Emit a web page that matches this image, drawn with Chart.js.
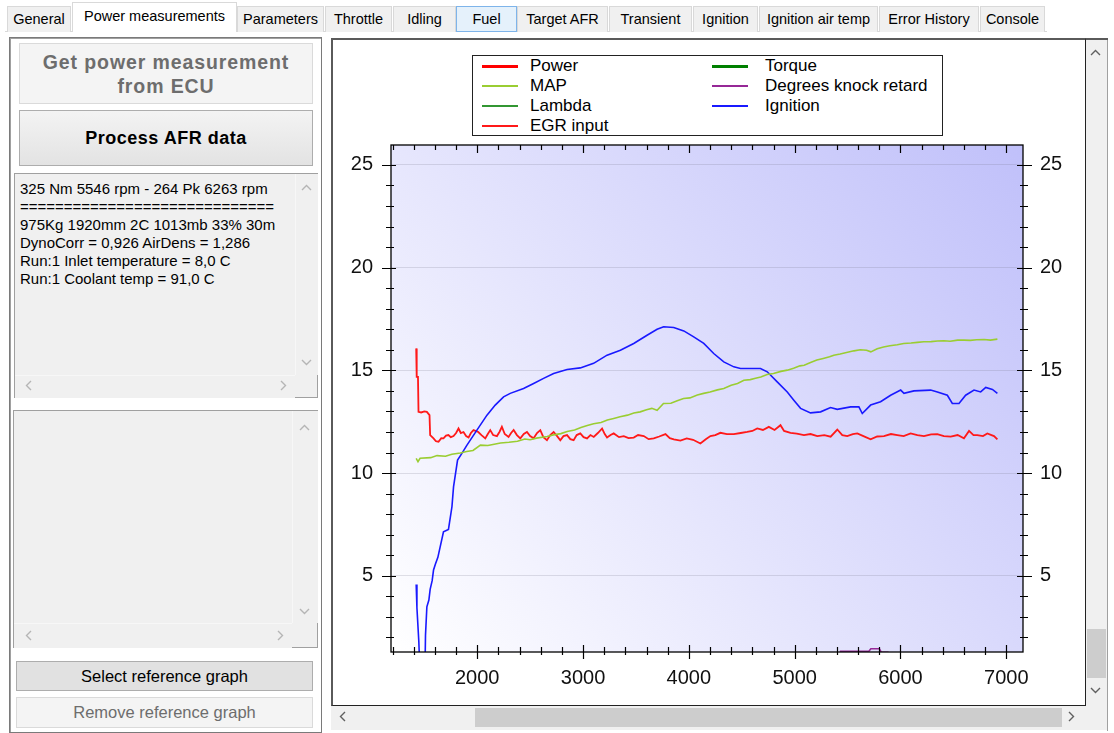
<!DOCTYPE html>
<html>
<head>
<meta charset="utf-8">
<script src="https://cdn.jsdelivr.net/npm/chart.js@4.4.1/dist/chart.umd.min.js"></script>
<style>
body { margin:0; width:1114px; height:733px; background:#fff; font-family: Arial, "Liberation Sans", sans-serif; position:relative; overflow:hidden; }
.a { position:absolute; box-sizing:border-box; }
.tab { position:absolute; top:6px; height:26px; background:#f0f0f0; border:1px solid #d9d9d9; border-bottom:none; font-size:14.5px; letter-spacing:0; text-align:center; line-height:24px; box-sizing:border-box; }
.tab.sel { top:2px; height:30px; background:#fff; line-height:26px; z-index:2; }
.tab.hot { background:#e5f1fb; border-color:#7eb4ea; border-bottom:1px solid #7eb4ea; }
.btn { position:absolute; box-sizing:border-box; text-align:center; }
.tb { position:absolute; box-sizing:border-box; background:#f0f0f0; border:1px solid #a0a0a0; }
.txt { position:absolute; left:5px; top:6px; font-size:15px; line-height:18px; white-space:pre; }
.sb { position:absolute; background:#f0f0f0; }
.arr { position:absolute; }
#legend { position:absolute; left:472px; top:55px; width:471px; height:81px; border:1px solid #222; background:#fff; box-sizing:border-box; font-size:17px; }
#legend .it { position:absolute; height:20px; line-height:20px; white-space:nowrap; }
#legend .ln { position:absolute; left:0; width:36px; }
#legend .lb { position:absolute; left:48px; top:0; }
</style>
</head>
<body>

<div class="a" style="left:5px;top:31px;width:1042px;height:1px;background:#d9d9d9"></div>
<div class="tab" style="left:7px;width:64px">General</div>
<div class="tab sel" style="left:72px;width:165px">Power measurements</div>
<div class="tab" style="left:237px;width:87px">Parameters</div>
<div class="tab" style="left:325px;width:67px">Throttle</div>
<div class="tab" style="left:393px;width:63px">Idling</div>
<div class="tab hot" style="left:456px;width:61px">Fuel</div>
<div class="tab" style="left:517px;width:91px">Target AFR</div>
<div class="tab" style="left:609px;width:83px">Transient</div>
<div class="tab" style="left:693px;width:65px">Ignition</div>
<div class="tab" style="left:759px;width:119px">Ignition air temp</div>
<div class="tab" style="left:879px;width:100px">Error History</div>
<div class="tab" style="left:980px;width:65px">Console</div>

<!-- left panel -->
<div class="a" style="left:9px;top:37px;width:313px;height:696px;border:1px solid #7a7a7a;box-shadow:inset 1px 1px 0 #a0a0a0"></div>

<div class="btn" style="left:19px;top:43px;width:294px;height:61px;background:#f4f4f4;border:1px solid #dadada;color:#6d6d6d;font-weight:bold;font-size:19.5px;letter-spacing:0.9px;line-height:24px;padding-top:6px">Get power measurement<br>from ECU</div>
<div class="btn" style="left:19px;top:110px;width:294px;height:56px;background:linear-gradient(#f3f3f3,#e3e3e3);border:1px solid #adadad;color:#000;font-weight:bold;font-size:18px;letter-spacing:0.5px;line-height:54px">Process AFR data</div>

<div class="tb" style="left:14px;top:173px;width:304px;height:225px">
  <div class="txt">325 Nm 5546 rpm - 264 Pk 6263 rpm
=============================
975Kg 1920mm 2C 1013mb 33% 30m
DynoCorr = 0,926 AirDens = 1,286
Run:1 Inlet temperature = 8,0 C
Run:1 Coolant temp = 91,0 C</div>
  <div class="sb" style="left:280px;top:0;width:22px;height:201px;border-left:1px solid #f7f7f7"></div>
  <svg class="arr" style="left:286px;top:10px" width="11" height="7"><polyline points="1,6 5.5,1.5 10,6" fill="none" stroke="#b5b5b5" stroke-width="1.4"/></svg>
  <svg class="arr" style="left:286px;top:185px" width="11" height="7"><polyline points="1,1 5.5,5.5 10,1" fill="none" stroke="#b5b5b5" stroke-width="1.4"/></svg>
  <div class="sb" style="left:0;top:201px;width:280px;height:22px;border-top:1px solid #f7f7f7"></div>
  <svg class="arr" style="left:10px;top:206px" width="7" height="11"><polyline points="6,1 1.5,5.5 6,10" fill="none" stroke="#b5b5b5" stroke-width="1.4"/></svg>
  <svg class="arr" style="left:265px;top:206px" width="7" height="11"><polyline points="1,1 5.5,5.5 1,10" fill="none" stroke="#b5b5b5" stroke-width="1.4"/></svg>
</div>

<div class="tb" style="left:13px;top:410px;width:305px;height:238px">
  <div class="sb" style="left:278px;top:0;width:25px;height:212px;border-left:1px solid #f7f7f7"></div>
  <svg class="arr" style="left:285px;top:13px" width="11" height="7"><polyline points="1,6 5.5,1.5 10,6" fill="none" stroke="#b5b5b5" stroke-width="1.4"/></svg>
  <svg class="arr" style="left:285px;top:197px" width="11" height="7"><polyline points="1,1 5.5,5.5 10,1" fill="none" stroke="#b5b5b5" stroke-width="1.4"/></svg>
  <div class="sb" style="left:0;top:212px;width:278px;height:24px;border-top:1px solid #f7f7f7"></div>
  <svg class="arr" style="left:11px;top:219px" width="7" height="11"><polyline points="6,1 1.5,5.5 6,10" fill="none" stroke="#b5b5b5" stroke-width="1.4"/></svg>
  <svg class="arr" style="left:263px;top:219px" width="7" height="11"><polyline points="1,1 5.5,5.5 1,10" fill="none" stroke="#b5b5b5" stroke-width="1.4"/></svg>
</div>

<div class="btn" style="left:16px;top:661px;width:297px;height:30px;background:#e1e1e1;border:1px solid #adadad;font-size:16.5px;line-height:28px">Select reference graph</div>
<div class="btn" style="left:16px;top:697px;width:297px;height:31px;background:#f4f4f4;border:1px solid #dadada;color:#6d6d6d;font-size:16.5px;line-height:29px">Remove reference graph</div>

<!-- chart panel -->
<div class="a" style="left:1107px;top:38px;width:1px;height:693px;background:#a0a0a0"></div>
<div class="a" style="left:331px;top:38px;width:777px;height:2px;background:#5a5a5a"></div>
<div class="a" style="left:331px;top:38px;width:755px;height:668px;border-left:2px solid #5a5a5a;border-top:2px solid #5a5a5a;border-right:1px solid #222;border-bottom:1px solid #222;background:#fff">
  <canvas id="chart" width="752" height="665" style="position:absolute;left:0;top:0"></canvas>
</div>
<div class="sb" style="left:1086px;top:40px;width:21px;height:666px"></div>
<svg class="arr" style="left:1090px;top:49px" width="11" height="7"><polyline points="1,6 5.5,1.5 10,6" fill="none" stroke="#606060" stroke-width="1.4"/></svg>
<div class="a" style="left:1087px;top:629px;width:19px;height:49px;background:#cdcdcd"></div>
<svg class="arr" style="left:1090px;top:687px" width="11" height="7"><polyline points="1,1 5.5,5.5 10,1" fill="none" stroke="#606060" stroke-width="1.4"/></svg>
<div class="sb" style="left:331px;top:706px;width:776px;height:24px"></div>
<svg class="arr" style="left:339px;top:711px" width="7" height="11"><polyline points="6,1 1.5,5.5 6,10" fill="none" stroke="#606060" stroke-width="1.4"/></svg>
<div class="a" style="left:475px;top:708px;width:587px;height:19px;background:#cdcdcd"></div>
<svg class="arr" style="left:1068px;top:711px" width="7" height="11"><polyline points="1,1 5.5,5.5 1,10" fill="none" stroke="#606060" stroke-width="1.4"/></svg>

<div id="legend"></div>

<script>
// axis ranges as shown in the graph (zoomed view)
const rpmMin = 1185, rpmMax = 7158;
const valMin = 1.29, valMax = 25.97;
const rpmLabels = [2000, 3000, 4000, 5000, 6000, 7000];
const valLabels = [5, 10, 15, 20, 25];

// Ignition (deg)
const ignRpm = [1423, 1430, 1448, 1461, 1505, 1511, 1524, 1543, 1555, 1574, 1587, 1605, 1628, 1681, 1728, 1761, 1776, 1814, 1855, 1903, 1997, 2092, 2170, 2249, 2312, 2438, 2533, 2627, 2722, 2849, 2974, 3100, 3227, 3353, 3479, 3605, 3700, 3762, 3857, 3952, 4046, 4141, 4235, 4330, 4425, 4488, 4677, 4741, 4835, 4930, 4992, 5056, 5150, 5245, 5339, 5403, 5529, 5607, 5639, 5718, 5812, 5907, 6002, 6033, 6127, 6285, 6349, 6443, 6490, 6553, 6616, 6695, 6758, 6806, 6869, 6916];
const ignDeg = [4.58, 3.44, 1.79, 0, 0, 2.1, 3.49, 3.82, 4.34, 4.76, 5.28, 5.57, 5.9, 7.14, 7.26, 8.36, 9.33, 10.63, 10.96, 11.36, 12.09, 12.82, 13.31, 13.71, 13.88, 14.12, 14.36, 14.61, 14.85, 15.04, 15.12, 15.34, 15.74, 15.98, 16.31, 16.71, 17.0, 17.12, 17.09, 16.92, 16.63, 16.31, 15.82, 15.41, 15.17, 15.09, 15.09, 14.93, 14.44, 13.95, 13.55, 13.15, 12.93, 12.98, 13.19, 13.10, 13.22, 13.22, 12.90, 13.31, 13.47, 13.79, 14.04, 13.88, 14.00, 14.04, 13.95, 13.79, 13.39, 13.39, 13.79, 14.04, 13.95, 14.17, 14.07, 13.88];

// MAP
const mapRpm = [1423, 1440, 1460, 1560, 1620, 1700, 1760, 1840, 1900, 1960, 2030, 2100, 2160, 2220, 2300, 2380, 2450, 2500, 2560, 2660, 2720, 2790, 2850, 2920, 2980, 3040, 3100, 3170, 3230, 3290, 3350, 3420, 3480, 3540, 3600, 3650, 3700, 3760, 3830, 3890, 3950, 4010, 4080, 4140, 4200, 4270, 4330, 4400, 4460, 4520, 4580, 4630, 4680, 4740, 4800, 4870, 4930, 4990, 5050, 5090, 5150, 5210, 5270, 5330, 5370, 5430, 5500, 5560, 5620, 5680, 5720, 5780, 5840, 5900, 5970, 6030, 6100, 6160, 6220, 6290, 6350, 6410, 6470, 6540, 6600, 6660, 6720, 6790, 6850, 6916];
const mapVal = [10.71, 10.55, 10.72, 10.75, 10.85, 10.82, 10.92, 10.98, 11.05, 11.10, 11.36, 11.34, 11.40, 11.46, 11.50, 11.55, 11.66, 11.62, 11.70, 11.78, 11.86, 11.92, 12.02, 12.10, 12.22, 12.32, 12.40, 12.46, 12.58, 12.66, 12.74, 12.82, 12.92, 12.98, 13.08, 13.15, 13.06, 13.39, 13.40, 13.52, 13.63, 13.66, 13.80, 13.88, 13.95, 14.05, 14.12, 14.28, 14.36, 14.52, 14.55, 14.62, 14.68, 14.80, 14.85, 14.95, 15.01, 15.10, 15.22, 15.25, 15.38, 15.50, 15.58, 15.66, 15.74, 15.80, 15.88, 15.95, 16.00, 15.98, 15.90, 16.05, 16.14, 16.20, 16.25, 16.31, 16.33, 16.36, 16.39, 16.40, 16.43, 16.44, 16.42, 16.47, 16.47, 16.46, 16.49, 16.50, 16.47, 16.52];

// EGR input
const egrRpm = [1423, 1428, 1440, 1445, 1470, 1500, 1524, 1549, 1555, 1587, 1610, 1634, 1660, 1681, 1705, 1728, 1750, 1776, 1800, 1823, 1845, 1870, 1895, 1918, 1940, 1965, 2010, 2040, 2076, 2100, 2123, 2150, 2186, 2210, 2233, 2260, 2296, 2320, 2344, 2375, 2407, 2440, 2470, 2500, 2533, 2565, 2596, 2625, 2659, 2690, 2722, 2755, 2785, 2815, 2849, 2880, 2911, 2940, 2974, 3005, 3038, 3070, 3101, 3140, 3180, 3205, 3227, 3260, 3290, 3340, 3385, 3430, 3479, 3520, 3574, 3620, 3668, 3720, 3779, 3820, 3858, 3920, 3980, 4040, 4109, 4160, 4204, 4250, 4298, 4360, 4425, 4490, 4551, 4600, 4646, 4700, 4756, 4810, 4866, 4900, 4961, 5020, 5088, 5150, 5214, 5280, 5340, 5403, 5450, 5497, 5550, 5592, 5650, 5718, 5780, 5844, 5910, 5970, 6030, 6096, 6160, 6222, 6290, 6348, 6410, 6475, 6540, 6600, 6648, 6690, 6726, 6780, 6821, 6860, 6884, 6916];
const egrVal = [16.07, 14.68, 14.68, 12.98, 12.95, 13.00, 12.98, 12.82, 11.85, 11.69, 11.55, 11.52, 11.70, 11.69, 11.82, 11.85, 11.75, 11.80, 11.95, 12.17, 11.95, 12.00, 11.80, 11.73, 11.95, 12.09, 12.00, 11.85, 11.69, 11.90, 12.09, 11.85, 11.80, 12.00, 12.25, 11.90, 11.76, 11.95, 12.10, 11.85, 11.69, 11.90, 12.00, 11.80, 11.69, 11.95, 12.09, 11.75, 11.60, 11.85, 12.00, 11.80, 11.60, 11.80, 11.85, 11.65, 11.60, 11.85, 11.93, 11.75, 11.69, 11.85, 11.76, 11.95, 12.17, 11.90, 11.73, 11.85, 11.93, 11.75, 11.80, 11.70, 11.73, 11.85, 11.80, 11.65, 11.69, 11.78, 11.90, 11.70, 11.64, 11.58, 11.69, 11.62, 11.44, 11.65, 11.80, 11.85, 11.96, 11.90, 11.90, 11.95, 12.00, 12.05, 12.17, 12.10, 12.25, 12.10, 12.33, 12.05, 11.96, 11.92, 11.85, 11.90, 11.80, 11.85, 11.77, 12.12, 11.85, 11.80, 11.90, 11.93, 11.80, 11.64, 11.78, 11.80, 11.90, 11.85, 11.80, 11.93, 11.85, 11.80, 11.88, 11.90, 11.80, 11.77, 11.85, 11.69, 12.05, 11.85, 11.85, 11.80, 11.93, 11.85, 11.80, 11.64];

// Degrees knock retard
const knockRpm = [1423, 5420, 5434, 5700, 5720, 5800, 5820, 5880, 5890, 6916];
const knockVal = [0, 0, 1.32, 1.32, 1.45, 1.45, 1.27, 1.27, 0, 0];

// Power, Torque and Lambda are off-scale in this view
const powerRpm = [], powerVal = [];
const torqueRpm = [], torqueVal = [];
const lambdaRpm = [], lambdaVal = [];

function pts(xs, ys) {
    return xs.map(function (x, i) { return {x: x, y: ys[i]}; });
}

function series(label, xs, ys, color, width) {
    return {
        label: label,
        data: pts(xs, ys),
        borderColor: color,
        backgroundColor: color,
        borderWidth: width,
        pointRadius: 0,
        fill: false,
        tension: 0
    };
}

// plot background gradient, frame and tic marks (ZedGraph look)
const zedPlugin = {
    id: 'zed',
    beforeDraw: function (chart) {
        const a = chart.chartArea, ctx = chart.ctx;
        const g = ctx.createLinearGradient(a.left, a.bottom, a.right, a.top);
        g.addColorStop(0, '#ffffff');
        g.addColorStop(1, 'rgb(192,192,250)');
        ctx.save();
        ctx.fillStyle = g;
        ctx.fillRect(a.left, a.top, a.width, a.height);
        ctx.restore();
    },
    afterDatasetsDraw: function (chart) {
        const a = chart.chartArea, ctx = chart.ctx;
        const xs = chart.scales.x, ys = chart.scales.y;
        ctx.save();
        ctx.strokeStyle = '#000';
        ctx.lineWidth = 1.3;
        ctx.strokeRect(a.left, a.top, a.width, a.height);
        ctx.lineWidth = 1.2;
        ctx.beginPath();
        for (let v = 1200; v <= rpmMax; v += 200) {
            const big = v % 1000 === 0;
            const px = Math.round(xs.getPixelForValue(v)) + 0.5;
            ctx.moveTo(px, a.bottom - (big ? 7 : 5));
            ctx.lineTo(px, a.bottom + (big ? 7 : 3));
            ctx.moveTo(px, a.top);
            ctx.lineTo(px, a.top + (big ? 8 : 5));
        }
        for (let v = 2; v <= 25; v++) {
            const big = v % 5 === 0;
            const py = Math.round(ys.getPixelForValue(v)) + 0.5;
            ctx.moveTo(a.left - (big ? 9 : 5), py);
            ctx.lineTo(a.left + (big ? 5 : 3), py);
            ctx.moveTo(a.right - (big ? 6 : 3), py);
            ctx.lineTo(a.right + (big ? 9 : 5), py);
        }
        ctx.stroke();
        ctx.restore();
    }
};

const tickFont = {family: 'Arial, "Liberation Sans"', size: 20};

const chart = new Chart(document.getElementById('chart'), {
    type: 'line',
    data: {
        datasets: [
            series('Power', powerRpm, powerVal, '#ff0000', 2.6),
            series('Torque', torqueRpm, torqueVal, '#008000', 2.6),
            series('MAP', mapRpm, mapVal, 'rgb(154,205,50)', 1.6),
            series('Degrees knock retard', knockRpm, knockVal, 'rgb(150,40,150)', 1.6),
            series('Lambda', lambdaRpm, lambdaVal, 'rgb(50,150,50)', 1.6),
            series('Ignition', ignRpm, ignDeg, 'rgb(25,25,255)', 1.6),
            series('EGR input', egrRpm, egrVal, 'rgb(255,25,25)', 1.8)
        ]
    },
    options: {
        responsive: false,
        animation: false,
        layout: {padding: {top: 105, left: 0, right: 0, bottom: 0}},
        plugins: {legend: {display: false}, tooltip: {enabled: false}},
        scales: {
            x: {
                type: 'linear',
                position: 'bottom',
                min: rpmMin,
                max: rpmMax,
                afterBuildTicks: function (s) { s.ticks = rpmLabels.map(function (v) { return {value: v}; }); },
                afterFit: function (s) { s.height = 53; },
                grid: {display: false, drawTicks: false},
                border: {display: false},
                ticks: {font: tickFont, color: '#111', padding: 14, maxRotation: 0, autoSkip: false,
                        callback: function (v) { return String(v); }}
            },
            y: {
                type: 'linear',
                position: 'left',
                min: valMin,
                max: valMax,
                afterBuildTicks: function (s) { s.ticks = valLabels.map(function (v) { return {value: v}; }); },
                afterFit: function (s) { s.width = 58; },
                grid: {color: 'rgba(110,110,130,0.2)', lineWidth: 1, drawTicks: false},
                border: {display: false},
                ticks: {font: tickFont, color: '#111', padding: 18,
                        callback: function (v) { return String(v); }}
            },
            y2: {
                type: 'linear',
                position: 'right',
                min: valMin,
                max: valMax,
                afterBuildTicks: function (s) { s.ticks = valLabels.map(function (v) { return {value: v}; }); },
                afterFit: function (s) { s.width = 62; },
                grid: {display: false, drawTicks: false},
                border: {display: false},
                ticks: {font: tickFont, color: '#111', padding: 17,
                        callback: function (v) { return String(v); }}
            }
        }
    },
    plugins: [zedPlugin]
});

// legend box, two columns, built from the datasets
const legend = document.getElementById('legend');
chart.data.datasets.forEach(function (ds, i) {
    const col = i % 2, row = Math.floor(i / 2);
    const it = document.createElement('div');
    it.className = 'it';
    it.style.left = (col === 0 ? 9 : 239) + 'px';
    it.style.top = (row * 20) + 'px';
    const ln = document.createElement('div');
    ln.className = 'ln';
    const h = ds.borderWidth > 2 ? 3 : 2;
    ln.style.height = h + 'px';
    ln.style.top = (10 - h / 2) + 'px';
    ln.style.background = ds.borderColor;
    const lb = document.createElement('div');
    lb.className = 'lb';
    lb.style.left = (col === 0 ? 48 : 53) + 'px';
    lb.textContent = ds.label;
    it.append(ln);
    it.append(lb);
    legend.append(it);
});
</script>
</body>
</html>
